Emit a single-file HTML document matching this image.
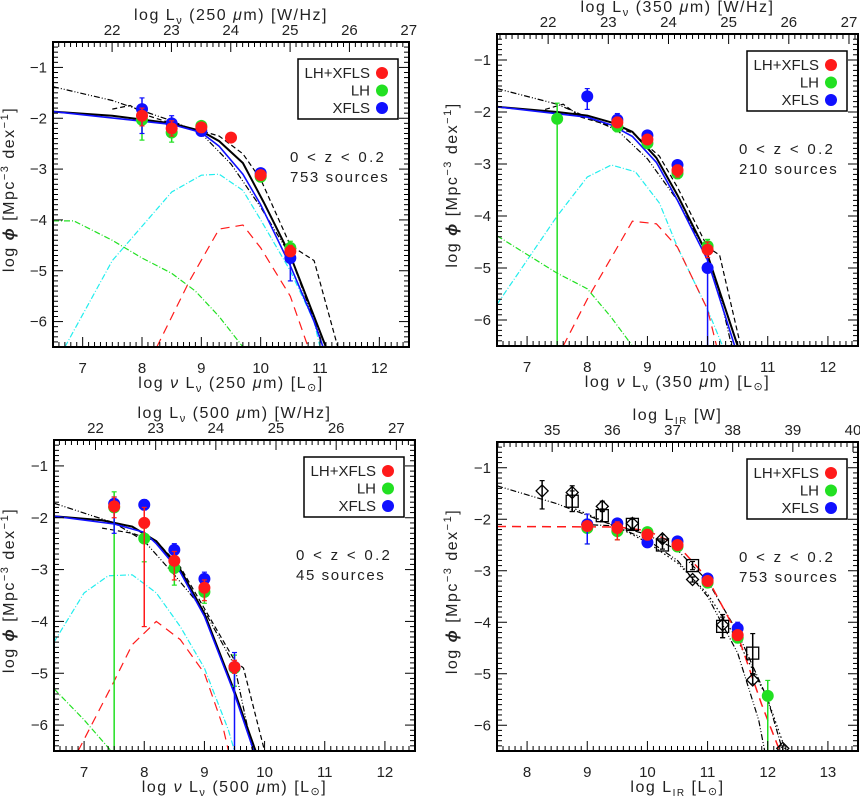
<!DOCTYPE html>
<html><head><meta charset="utf-8"><style>
html,body{margin:0;padding:0;background:#fff;}
svg{display:block;font-family:"Liberation Sans",sans-serif;}
</style></head><body>
<svg id="fig" width="860" height="797" viewBox="0 0 860 797"></svg>
<script>
// ---------- data (bottom-axis x, log phi, err lo, err hi) ----------
const p1Red=[[8,-1.95,-2.15,-1.8],[8.5,-2.2,-2.35,-2.05],[9,-2.18,-2.25,-2.1],[9.5,-2.38,-2.42,-2.34],[10,-3.12,-3.17,-3.07],[10.5,-4.62,-4.7,-4.5]];
const p1Green=[[8,-2.03,-2.43,-1.75],[8.5,-2.28,-2.47,-2.1],[9,-2.15,-2.2,-2.1],[10,-3.15,-3.2,-3.1],[10.5,-4.55,-4.7,-4.42]];
const p1Blue=[[8,-1.82,-2.3,-1.6],[8.5,-2.1,-2.3,-1.95],[9,-2.25,-2.3,-2.2],[10,-3.08,-3.13,-3.03],[10.5,-4.75,-5.2,-4.55]];
const p1Solid=[[6.5,-1.87],[7.5,-1.95],[8.5,-2.1],[9,-2.25],[9.3,-2.45],[9.7,-2.88],[10.05,-3.65],[10.5,-4.7],[10.9,-5.9],[11.1,-6.5]];
const p1BlueLine=[[6.5,-1.87],[8.5,-2.12],[9,-2.28],[9.3,-2.55],[9.7,-3.1],[10,-3.7],[10.5,-4.9],[10.9,-6.0],[11.05,-6.5]];
const p1Dashed=[[7.5,-1.82],[7.8,-1.75],[8.1,-1.95],[8.5,-2.1],[9,-2.25],[9.3,-2.35],[9.7,-2.7],[10,-3.2],[10.5,-4.5],[10.9,-4.8],[11.3,-6.5]];
const p1Ddd=[[6.5,-1.38],[7.5,-1.65],[8.5,-2.05],[9,-2.3],[9.5,-2.9],[10,-3.75],[10.5,-4.7],[11,-6.3],[11.05,-6.5]];
const p1Cyan=[[6.7,-6.5],[7.5,-4.8],[8.5,-3.45],[9,-3.12],[9.3,-3.1],[9.7,-3.42],[10,-4.0],[10.5,-5.0],[10.9,-6.0],[11.0,-6.5]];
const p1RedLine=[[8.25,-6.5],[8.8,-5.2],[9.3,-4.18],[9.7,-4.1],[10,-4.55],[10.5,-5.5],[10.8,-6.5]];
const p1GreenLine=[[6.5,-4.02],[6.85,-4.02],[7.5,-4.4],[8,-4.75],[8.5,-5.05],[8.9,-5.4],[9.3,-5.9],[9.7,-6.5]];

const p2Red=[[8.5,-2.2,-2.3,-2.1],[9,-2.53,-2.62,-2.45],[9.5,-3.12,-3.25,-3.02],[10,-4.65,-4.8,-4.5]];
const p2Green=[[7.5,-2.13,-6.5,-1.83],[8.5,-2.28,-2.38,-2.2],[9,-2.6,-2.68,-2.52],[9.5,-3.18,-3.28,-3.1],[10,-4.58,-4.7,-4.45]];
const p2Blue=[[8,-1.7,-1.95,-1.55],[8.5,-2.15,-2.25,-2.03],[9,-2.45,-2.52,-2.38],[9.5,-3.02,-3.1,-2.95],[10,-5.0,-6.5,-4.8]];
const p2Solid=[[6.5,-1.9],[7.5,-2.0],[8,-2.07],[8.4,-2.2],[8.75,-2.38],[9.15,-2.88],[9.5,-3.6],[10,-4.75],[10.5,-6.5]];
const p2BlueLine=[[6.5,-1.9],[8,-2.1],[8.4,-2.25],[8.75,-2.47],[9.15,-2.97],[9.5,-3.7],[10,-4.85],[10.45,-6.5]];
const p2Dashed=[[7.3,-1.95],[7.6,-1.85],[7.9,-2.1],[8.4,-2.27],[8.75,-2.4],[9.2,-2.85],[9.5,-3.45],[10,-4.6],[10.2,-4.75],[10.55,-6.5]];
const p2Ddd=[[6.5,-1.55],[7.5,-1.85],[8.5,-2.35],[9,-2.9],[9.5,-3.7],[10,-4.75],[10.2,-5.5],[10.4,-6.5]];
const p2Cyan=[[6.5,-5.7],[7.5,-4.0],[8,-3.25],[8.4,-3.02],[8.8,-3.15],[9.2,-3.75],[9.5,-4.6],[10,-5.8],[10.25,-6.5]];
const p2RedLine=[[7.6,-6.5],[8.0,-5.6],[8.75,-4.1],[9.15,-4.15],[9.5,-4.6],[10,-5.8],[10.15,-6.5]];
const p2GreenLine=[[6.5,-4.38],[7.5,-5.1],[8,-5.4],[8.4,-5.95],[8.75,-6.5]];

const p3Red=[[7.5,-1.78,-2.0,-1.6],[8,-2.1,-4.1,-1.8],[8.5,-2.83,-3.2,-2.65],[9,-3.35,-3.6,-3.2],[9.5,-4.88,-5.0,-4.75]];
const p3Green=[[7.5,-1.8,-6.5,-1.5],[8,-2.4,-2.85,-2.2],[8.5,-2.97,-3.3,-2.8],[9,-3.43,-3.65,-3.3],[9.5,-4.9,-5.25,-4.65]];
const p3Blue=[[7.5,-1.73,-2.3,-1.6],[8,-1.75,-1.85,-1.65],[8.5,-2.62,-2.75,-2.5],[9,-3.18,-3.3,-3.05],[9.5,-4.88,-6.5,-4.6]];
const p3Solid=[[6.5,-1.97],[7.3,-2.05],[7.8,-2.17],[8.2,-2.45],[8.6,-3.0],[9,-3.85],[9.5,-5.35],[9.85,-6.5]];
const p3BlueLine=[[6.5,-1.97],[7.5,-2.12],[8,-2.28],[8.2,-2.5],[8.6,-3.05],[9,-3.9],[9.5,-5.4],[9.82,-6.5]];
const p3Dashed=[[7.3,-2.2],[7.8,-2.3],[8.2,-2.45],[8.6,-2.95],[9,-3.75],[9.5,-4.75],[9.65,-4.9],[10.0,-6.5]];
const p3Ddd=[[6.5,-1.72],[7.5,-2.1],[8,-2.45],[8.5,-3.1],[9,-3.8],[9.5,-4.85],[9.8,-6.5]];
const p3Cyan=[[6.5,-4.4],[7,-3.45],[7.4,-3.12],[7.8,-3.1],[8.2,-3.45],[8.6,-4.1],[9,-4.9],[9.4,-6.1],[9.5,-6.5]];
const p3RedLine=[[6.9,-6.5],[7.5,-5.15],[7.8,-4.45],[8.2,-4.0],[8.6,-4.35],[9,-5.0],[9.3,-6.0],[9.4,-6.5]];
const p3GreenLine=[[6.5,-5.3],[7,-5.9],[7.45,-6.5]];

const p4Red=[[9,-2.13,-2.2,-2.05],[9.5,-2.17,-2.4,-2.05],[10,-2.3,-2.4,-2.2],[10.5,-2.5,-2.58,-2.42],[11,-3.2,-3.28,-3.12],[11.5,-4.25,-4.35,-4.15]];
const p4Green=[[9,-2.17,-2.48,-2.0],[9.5,-2.23,-2.4,-2.1],[10,-2.25,-2.32,-2.18],[10.5,-2.53,-2.6,-2.46],[11,-3.23,-3.3,-3.16],[11.5,-4.3,-4.4,-4.2],[12,-5.43,-6.5,-5.13]];
const p4Blue=[[9,-2.1,-2.48,-1.9],[9.5,-2.08,-2.2,-2.0],[10,-2.45,-2.52,-2.38],[10.5,-2.43,-2.5,-2.36],[11,-3.15,-3.22,-3.08],[11.5,-4.12,-4.2,-4.0]];
const p4Diam=[[8.25,-1.45,-1.8,-1.25],[8.75,-1.48,-1.85,-1.35],[9.25,-1.75,-1.85,-1.65],[9.75,-2.08,-2.18,-1.98],[10.25,-2.38,-2.45,-2.3],[10.75,-3.17,-3.22,-3.12],[11.25,-4.05,-4.3,-3.85],[11.75,-5.12,-5.2,-5.0],[12.25,-6.45,-6.5,-6.4]];
const p4Square=[[8.75,-1.65,-1.85,-1.45],[9.25,-1.93,-2.05,-1.8],[9.75,-2.1,-2.2,-2.0],[10.25,-2.5,-2.58,-2.42],[10.75,-2.9,-2.98,-2.82],[11.25,-4.08,-4.3,-3.9],[11.75,-4.6,-5.0,-4.22]];
const p4RedLine=[[7.5,-2.14],[9.5,-2.15],[10,-2.22],[10.5,-2.5],[11,-3.15],[11.5,-4.25],[11.9,-5.6],[12.2,-6.5]];
const p4Ddd=[[7.5,-1.35],[8.5,-1.7],[9.5,-2.15],[10,-2.4],[10.5,-2.8],[11,-3.5],[11.5,-4.6],[11.85,-5.9],[11.95,-6.5]];
const p4Dotted=[[8.8,-1.8],[9.5,-2.15],[10,-2.45],[10.5,-2.85],[11,-3.45],[11.5,-4.35],[12,-5.5],[12.3,-6.5]];
const p4DashDot=[[8.9,-2.1],[9.5,-2.13],[10,-2.3],[10.5,-2.6],[11,-3.2],[11.5,-4.2],[12,-5.5],[12.25,-6.5]];

const yTicks=[-1,-2,-3,-4,-5,-6];
const sourceCounts=["753","210","45","753"];
// ---------- rendering ----------
const NS="http://www.w3.org/2000/svg";
const svg=document.getElementById('fig');
function mk(tag,attrs,parent){const e=document.createElementNS(NS,tag);for(const k in attrs)e.setAttribute(k,attrs[k]);(parent||svg).appendChild(e);return e;}
const RED="#ff1a1a",GREEN="#22e022",BLUE="#1010ff",CYAN="#22eeee";

function panel(c){
  const g=mk('g',{});
  
  
  const X=v=>c.l+(v-c.x0)/(c.x1-c.x0)*(c.r-c.l);
  const Y=v=>c.t+(-0.5-v)/6*(c.b-c.t);
  const clip='clip'+c.id;
  const d=mk('defs',{},g);const cp=mk('clipPath',{id:clip},d);mk('rect',{x:c.l,y:c.t,width:c.r-c.l,height:c.b-c.t},cp);
  const plot=mk('g',{'clip-path':'url(#'+clip+')'},g);
  
  
  c.lines.forEach(L=>{
    const p=mk('polyline',{points:L.d.map(q=>X(q[0]).toFixed(1)+','+Y(q[1]).toFixed(1)).join(' '),fill:'none',stroke:L.col,'stroke-width':L.w||1.2,'stroke-dasharray':L.dash||'none'},plot);
    
    
  });
  c.pts.forEach(S=>{
    S.d.forEach(q=>{
      const x=X(q[0]);
      const eb=mk('line',{x1:x,x2:x,y1:Y(q[2]),y2:Y(q[3]),stroke:S.col,'stroke-width':1.5},plot);
      
      
      [q[2],q[3]].forEach(v=>{if(v>-6.49)mk('line',{x1:x-2.5,x2:x+2.5,y1:Y(v),y2:Y(v),stroke:S.col,'stroke-width':1.2},plot);});
      let m;
      if(S.shape==='diamond'){const y=Y(q[1]);m=mk('polygon',{points:`${x},${y-6} ${x+6},${y} ${x},${y+6} ${x-6},${y}`,fill:'none',stroke:'#000','stroke-width':1.3},plot);}
      else if(S.shape==='square'){const y=Y(q[1]);m=mk('rect',{x:x-6,y:y-6,width:12,height:12,fill:'none',stroke:'#000','stroke-width':1.3},plot);}
      else m=mk('circle',{cx:x,cy:Y(q[1]),r:6,fill:S.col},plot);
      
      
    });
  });
  const fr=mk('rect',{x:c.l,y:c.t,width:c.r-c.l,height:c.b-c.t,fill:'none',stroke:'#000','stroke-width':2},g);
  
  
  for(let i=Math.ceil(c.x0*10);i<=Math.floor(c.x1*10);i++){
    const v=i/10,x=X(v),maj=(i%10===0);
    mk('line',{x1:x,x2:x,y1:c.b,y2:c.b-(maj?10:5),stroke:'#000','stroke-width':1},g);
    if(maj){const t=mk('text',{x:x,y:c.b+26,'text-anchor':'middle','font-size':15,fill:'#222'},g);t.textContent=v;
      
      }
  }
  const T0=c.x0+c.off,T1=c.x1+c.off;
  for(let i=Math.ceil(T0*10);i<=Math.floor(T1*10);i++){
    const v=i/10,x=X(v-c.off),maj=(i%10===0);
    mk('line',{x1:x,x2:x,y1:c.t,y2:c.t+(maj?10:5),stroke:'#000','stroke-width':1},g);
    if(maj){const t=mk('text',{x:x,y:c.t-7,'text-anchor':'middle','font-size':15,fill:'#222'},g);t.textContent=v;
      
      }
  }
  for(let i=-65;i<=-5;i++){
    const v=i/10,y=Y(v),maj=(i%10===0);
    mk('line',{x1:c.l,x2:c.l+(maj?10:5),y1:y,y2:y,stroke:'#000','stroke-width':1},g);
    mk('line',{x1:c.r,x2:c.r-(maj?10:5),y1:y,y2:y,stroke:'#000','stroke-width':1},g);
  }
  yTicks.forEach(v=>{const t=mk('text',{x:c.l-6,y:Y(v)+5,'text-anchor':'end','font-size':15,fill:'#222'},g);t.textContent='\u2212'+(-v);
    
    });
  const cx=(c.l+c.r)/2;
  const bt=mk('text',{x:c.bx||cx,y:c.b+41,'text-anchor':'middle','font-size':16,fill:'#222','letter-spacing':'1.5'},g);bt.innerHTML=c.btitle;
  
  
  const tt=mk('text',{x:c.tx||cx,y:c.t-22,'text-anchor':'middle','font-size':16,fill:'#222','letter-spacing':'1.5'},g);tt.innerHTML=c.ttitle;
  
  
  const yy=(c.t+c.b)/2-5;
  const yt=mk('text',{x:c.yx,y:yy,'text-anchor':'middle','font-size':16,fill:'#222','letter-spacing':'1.5',transform:`rotate(-90 ${c.yx} ${yy})`},g);
  yt.innerHTML='log <tspan font-style="italic" font-weight="bold">\u03d5</tspan> [Mpc<tspan dy="-6" font-size="11">\u22123</tspan><tspan dy="6"> dex</tspan><tspan dy="-6" font-size="11">\u22121</tspan><tspan dy="6">]</tspan>';
  
  
  const lg=mk('g',{},g);
  
  
  const lr=c.r-11,lt=c.t+17;
  mk('rect',{x:lr-100,y:lt,width:100,height:60,fill:'#fff',stroke:'#000','stroke-width':1.5},lg);
  [['LH+XFLS',RED],['LH',GREEN],['XFLS',BLUE]].forEach((e,i)=>{
    const y=lt+14+i*17.5;
    const t=mk('text',{x:lr-28,y:y+5,'text-anchor':'end','font-size':15,fill:'#222'},lg);t.textContent=e[0];
    
    
    mk('circle',{cx:lr-16,cy:y,r:6,fill:e[1]},lg);
  });
  const a1=mk('text',{x:c.r-119,y:c.t+120,'font-size':15,fill:'#222','letter-spacing':'2.3'},g);a1.textContent='0 < z < 0.2';
  
  
  const a2=mk('text',{x:c.r-119,y:c.t+140,'font-size':15,fill:'#222','letter-spacing':'1.6'},g);a2.textContent=c.count+' sources';
  
  
}
const nu='<tspan font-style="italic">\u03bd</tspan>';
const Lnu='L<tspan dy="4" font-size="11">\u03bd</tspan><tspan dy="-4">';
function stdLines(s,b,d,ddd,cy,r,gr){return[
  {name:'cyan-component-line',d:cy,col:CYAN,dash:'6,2,1,2'},
  {name:'green-component-line',d:gr,col:GREEN,dash:'6,2,1,2'},
  {name:'red-component-line',d:r,col:RED,dash:'9,6'},
  {name:'dashed-model-line',d:d,col:'#000',dash:'5,3'},
  {name:'dash-dot-model-line',d:ddd,col:'#000',dash:'6,2,1,2,1,2'},
  {name:'black-total-line',d:s,col:'#000',w:2},
  {name:'blue-total-line',d:b,col:BLUE,w:1.6}];}
function stdPts(r,g,b){return[{name:'lh-series',d:g,col:GREEN},{name:'xfls-series',d:b,col:BLUE},{name:'lh-xfls-series',d:r,col:RED}];}
panel({id:1,name:'panel-250um',l:53,r:409,t:42,b:347,x0:6.5,x1:12.5,off:14.504,yx:14,count:sourceCounts[0],
  ttitle:'log '+Lnu+' (250 <tspan font-style="italic">\u03bc</tspan>m) [W/Hz]</tspan>',btitle:'log '+nu+' '+Lnu+' (250 <tspan font-style="italic">\u03bc</tspan>m) [L<tspan font-size="11" dy="3">\u2299</tspan><tspan dy="-3">]</tspan></tspan>',
  lines:stdLines(p1Solid,p1BlueLine,p1Dashed,p1Ddd,p1Cyan,p1RedLine,p1GreenLine),pts:stdPts(p1Red,p1Green,p1Blue)});
panel({id:2,name:'panel-350um',l:497,r:858,t:34,b:346,x0:6.5,x1:12.5,off:14.65,yx:457,count:sourceCounts[1],
  ttitle:'log '+Lnu+' (350 <tspan font-style="italic">\u03bc</tspan>m) [W/Hz]</tspan>',btitle:'log '+nu+' '+Lnu+' (350 <tspan font-style="italic">\u03bc</tspan>m) [L<tspan font-size="11" dy="3">\u2299</tspan><tspan dy="-3">]</tspan></tspan>',
  lines:stdLines(p2Solid,p2BlueLine,p2Dashed,p2Ddd,p2Cyan,p2RedLine,p2GreenLine),pts:stdPts(p2Red,p2Green,p2Blue)});
panel({id:3,name:'panel-500um',l:54,r:415,t:440,b:751,x0:6.5,x1:12.5,off:14.81,yx:14,count:sourceCounts[2],
  ttitle:'log '+Lnu+' (500 <tspan font-style="italic">\u03bc</tspan>m) [W/Hz]</tspan>',btitle:'log '+nu+' '+Lnu+' (500 <tspan font-style="italic">\u03bc</tspan>m) [L<tspan font-size="11" dy="3">\u2299</tspan><tspan dy="-3">]</tspan></tspan>',
  lines:stdLines(p3Solid,p3BlueLine,p3Dashed,p3Ddd,p3Cyan,p3RedLine,p3GreenLine),pts:stdPts(p3Red,p3Green,p3Blue)});
panel({id:4,name:'panel-total-ir',l:497,r:858,t:442,b:751,x0:7.5,x1:13.5,off:26.583,yx:457,count:sourceCounts[3],
  ttitle:'log L<tspan dy="4" font-size="10">IR</tspan><tspan dy="-4"> [W]</tspan>',btitle:'log L<tspan dy="4" font-size="10">IR</tspan><tspan dy="-4"> [L</tspan><tspan font-size="11" dy="3">\u2299</tspan><tspan dy="-3">]</tspan>',
  lines:[{name:'dotted-model-line',d:p4Dotted,col:'#000',dash:'1.5,2.5'},{name:'dash-dot-model-line',d:p4DashDot,col:'#000',dash:'6,2,1,2'},{name:'dash-dot-dot-model-line',d:p4Ddd,col:'#000',dash:'6,2,1,2,1,2'},{name:'red-fit-line',d:p4RedLine,col:RED,dash:'9,6',w:1.5}],
  pts:[{name:'diamond-literature',d:p4Diam,col:'#000',shape:'diamond'},{name:'square-literature',d:p4Square,col:'#000',shape:'square'}].concat(stdPts(p4Red,p4Green,p4Blue))});
</script>
</body></html>
